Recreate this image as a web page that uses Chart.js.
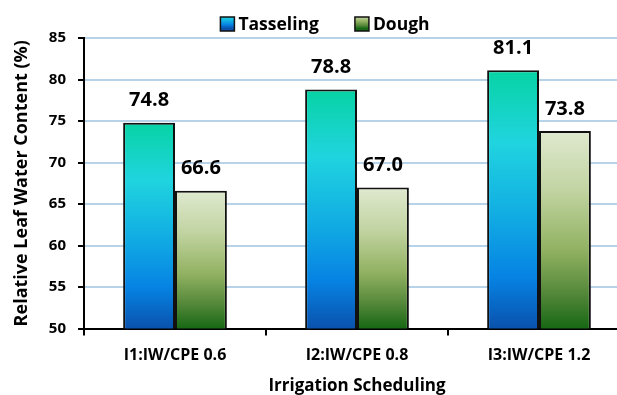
<!DOCTYPE html>
<html>
<head>
<meta charset="utf-8">
<script src="https://cdn.jsdelivr.net/npm/chart.js@4.4.1/dist/chart.umd.min.js"></script>
<style>
  html, body { margin: 0; padding: 0; overflow: hidden; background: #fff; width: 617px; height: 395px; }
  #wrap { width: 650px; height: 395px; }
</style>
</head>
<body>
<div id="wrap"><canvas id="c" width="650" height="395"></canvas></div>
<script>
const categories = ['I1:IW/CPE 0.6', 'I2:IW/CPE 0.8', 'I3:IW/CPE 1.2'];
const tasseling = [74.8, 78.8, 81.1];
const dough = [66.6, 67.0, 73.8];
const yMin = 50, yMax = 85, yStep = 5;

const FONT = '"Open Sans"';
Chart.defaults.font.family = FONT;
Chart.defaults.color = '#000';

const tasselStops = [[0, '#07d3a4'], [0.28, '#20d4df'], [0.55, '#12aee3'], [0.8, '#0683e3'], [1, '#0a52ad']];
const doughStops = [[0, '#dfe9cf'], [0.3, '#c2d4a2'], [0.6, '#92b262'], [0.82, '#55883a'], [1, '#176814']];

function ramp(c, stops, top, bottom) {
  const g = c.createLinearGradient(0, top, 0, bottom);
  stops.forEach(s => g.addColorStop(s[0], s[1]));
  return g;
}

// vertical gradient per bar, from its top down to the axis
function barFill(stops) {
  return function (ctx) {
    const chart = ctx.chart;
    if (ctx.type === 'data' && chart.chartArea && chart.scales.y) {
      const y = chart.scales.y;
      const top = y.getPixelForValue(ctx.raw);
      const bottom = y.getPixelForValue(y.min);
      if (isFinite(top) && isFinite(bottom) && top !== bottom) return ramp(chart.ctx, stops, top, bottom);
    }
    return stops[2][1];
  };
}

const seriesStops = [tasselStops, doughStops];

// legend row above the plot: gradient swatch + bold name per series
const topLegend = {
  id: 'topLegend',
  afterDraw(chart) {
    const { ctx } = chart;
    const box = 14, gap = 4, spacing = 36, cy = 24;
    ctx.save();
    ctx.font = 'bold 17.5px ' + FONT;
    ctx.textBaseline = 'middle';
    ctx.textAlign = 'left';
    const items = chart.data.datasets.map((ds, i) => ({ label: ds.label, stops: seriesStops[i], w: ctx.measureText(ds.label).width }));
    const total = items.reduce((s, it) => s + box + gap + it.w, 0) + spacing * (items.length - 1);
    let x = chart.width / 2 - total / 2;
    items.forEach(it => {
      const top = cy - box / 2;
      ctx.fillStyle = ramp(ctx, it.stops.map((s, k) => [s[0], it.stops[Math.min(k + 1, it.stops.length - 1)][1]]), top, top + box);
      ctx.fillRect(x, top, box, box);
      ctx.lineWidth = 1.5;
      ctx.strokeStyle = '#111';
      ctx.strokeRect(x, top, box, box);
      ctx.fillStyle = '#000';
      ctx.fillText(it.label, x + box + gap, cy + 1);
      x += box + gap + it.w + spacing;
    });
    ctx.restore();
  }
};

const valueLabels = {
  id: 'valueLabels',
  afterDatasetsDraw(chart) {
    const { ctx } = chart;
    ctx.save();
    ctx.font = 'bold 20px ' + FONT;
    ctx.fillStyle = '#000';
    ctx.textAlign = 'center';
    ctx.textBaseline = 'middle';
    chart.data.datasets.forEach((ds, i) => {
      chart.getDatasetMeta(i).data.forEach((bar, j) => {
        ctx.fillText(ds.data[j].toFixed(1), bar.x, bar.y - 22);
      });
    });
    ctx.restore();
  }
};

new Chart(document.getElementById('c'), {
  type: 'bar',
  data: {
    labels: categories,
    datasets: [
      { label: 'Tasseling', data: tasseling, backgroundColor: barFill(tasselStops), borderColor: '#111', borderWidth: 2 },
      { label: 'Dough', data: dough, backgroundColor: barFill(doughStops), borderColor: '#111', borderWidth: 2 }
    ]
  },
  options: {
    responsive: false,
    animation: false,
    devicePixelRatio: 1,
    categoryPercentage: 0.57,
    barPercentage: 1.0,
    layout: { padding: { left: 0, right: 20, top: 38, bottom: 0 } },
    plugins: {
      legend: { display: false },
      tooltip: { enabled: false }
    },
    scales: {
      x: {
        grid: { display: true, drawOnChartArea: false, drawTicks: true, tickLength: 7, color: '#000', lineWidth: 2, offset: true },
        border: { display: true, color: '#000', width: 2 },
        ticks: { padding: 10, font: { size: 16, weight: 'bold' }, color: '#000' },
        title: { display: true, text: 'Irrigation Scheduling', font: { size: 17, weight: 'bold' }, color: '#000', padding: { top: 0, bottom: -1.5 } },
        afterFit(scale) { scale.height = 66.5; }
      },
      y: {
        min: yMin, max: yMax,
        ticks: { stepSize: yStep, padding: 12, font: { size: 15, weight: 'bold' }, color: '#000' },
        grid: { color: '#b7d3ea', lineWidth: 2, tickLength: 6, tickColor: '#000' },
        border: { display: true, color: '#000', width: 2 },
        title: { display: true, text: 'Relative Leaf Water Content (%)', font: { size: 18, weight: 'bold' }, color: '#000', padding: { top: 11, bottom: 0 } },
        afterFit(scale) { scale.width = 84; }
      }
    }
  },
  plugins: [valueLabels, topLegend]
});
</script>
</body>
</html>
